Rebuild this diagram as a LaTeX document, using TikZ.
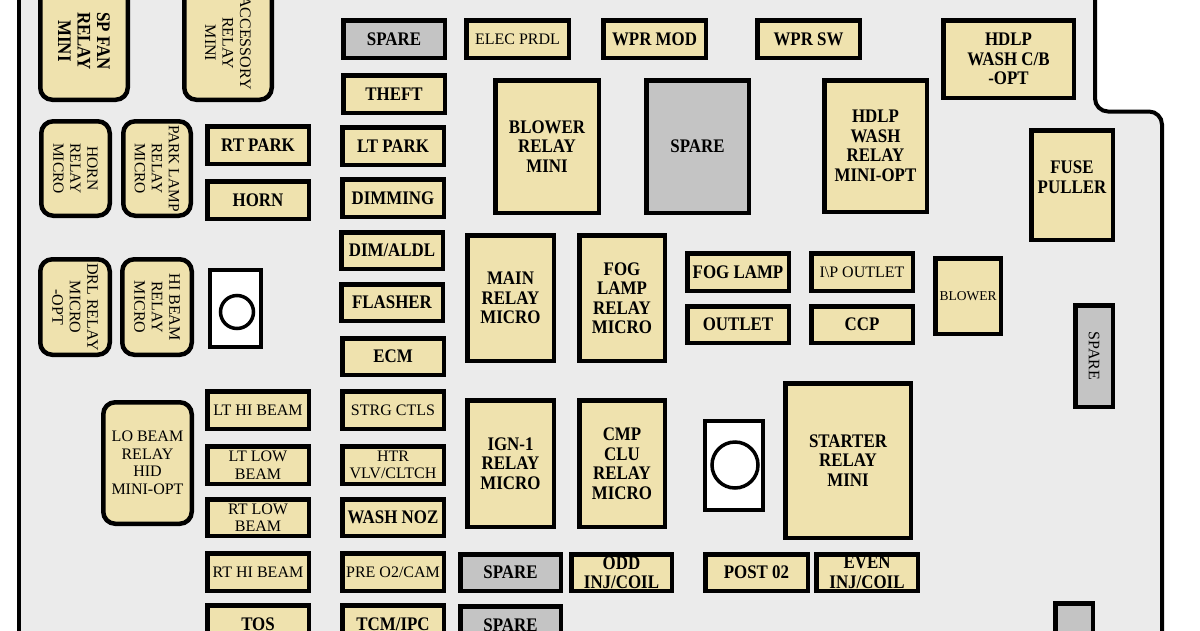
\documentclass[tikz,border=0pt]{standalone}
\usepackage{fontspec}
\setmainfont{Liberation Serif}[BoldFeatures={FakeStretch=0.88}]
\definecolor{panel}{HTML}{EBEBEB}
\definecolor{fuse}{HTML}{EFE2AE}
\definecolor{spare}{HTML}{C4C4C4}
\tikzset{
  box/.style={draw=black, line width=4.5pt, fill=fuse, inner sep=0pt, align=center},
  sparebox/.style={box, fill=spare},
  holebox/.style={box, fill=white, line width=4pt},
  relay/.style={box, rounded corners=12pt},
  bt/.style={font=\fontsize{19.2}{19.5}\selectfont\bfseries},
  rt/.style={font=\fontsize{16}{17.5}\selectfont},
  st/.style={font=\fontsize{15.5}{17}\selectfont},
  xt/.style={font=\fontsize{13.5}{15}\selectfont},
  hole/.style={circle, draw=black, fill=white, line width=3.5pt, inner sep=0pt},
  edge/.style={draw=black, line width=4pt}
}
\newcommand{\fbx}[7]{%
  \pgfmathsetmacro\bxcx{(#3+#5)/2}%
  \pgfmathsetmacro\bxcy{-(#4+#6)/2}%
  \pgfmathsetmacro\bxw{#5-#3-4.5}%
  \pgfmathsetmacro\bxh{#6-#4-4.5}%
  \node[#1, minimum width=\bxw pt, minimum height=\bxh pt] (#2) at (\bxcx pt,\bxcy pt) {#7};}
\newcommand{\rbx}[7]{%
  \pgfmathsetmacro\bxcx{(#3+#5)/2}%
  \pgfmathsetmacro\bxcy{-(#4+#6)/2}%
  \pgfmathsetmacro\bxw{#5-#3-4.5}%
  \pgfmathsetmacro\bxh{#6-#4-4.5}%
  \node[#1, rotate=-90, minimum width=\bxh pt, minimum height=\bxw pt] (#2) at (\bxcx pt,\bxcy pt) {#7};}
\begin{document}
\begin{tikzpicture}
\useasboundingbox (0pt,0pt) rectangle (1200pt,-630pt);
\clip (0pt,0pt) rectangle (1200pt,-630pt);
\fill[white] (0pt,0pt) rectangle (1200pt,-630pt);
% panel
\fill[panel] (18.7pt,10pt) -- (1095pt,10pt) [rounded corners=13pt] -- (1095pt,-111.5pt) -- (1162pt,-111.5pt) [sharp corners] -- (1162pt,-640pt) -- (18.7pt,-640pt) -- cycle;
\draw[edge] (18.7pt,10pt) -- (18.7pt,-640pt);
\draw[edge] (1095pt,10pt) [rounded corners=13pt] -- (1095pt,-111.5pt) -- (1162pt,-111.5pt) [sharp corners] -- (1162pt,-640pt);

% rotated relays, left
\rbx{relay,bt}{spfan}{38}{-20}{130}{102}{SP FAN\\RELAY\\MINI}
\rbx{relay,rt}{acc}{182}{-16}{274}{102}{ACCESSORY\\RELAY\\MINI}
\rbx{relay,st}{hornrly}{39}{119}{112}{218}{HORN\\RELAY\\MICRO}
\rbx{relay,st}{parkrly}{121}{119}{193}{218}{PARK LAMP\\RELAY\\MICRO}
\rbx{relay,rt}{drlrly}{38}{257}{112}{357}{DRL RELAY\\MICRO\\-OPT}
\rbx{relay,rt}{hirly}{120}{257}{194}{357}{HI BEAM\\RELAY\\MICRO}
\fbx{relay,rt}{lorly}{101}{400}{194}{526}{LO BEAM\\RELAY\\HID\\MINI-OPT}

% hole 1
\fbx{holebox}{hole1box}{208}{268}{263}{349}{}
\node[hole, minimum size=33pt] (hole1) at (237pt,-312pt) {};

% column 1 fuses
\fbx{box,bt}{rtpark}{205}{124}{311}{166}{RT PARK}
\fbx{box,bt}{horn}{205}{179}{311}{221}{HORN}
\fbx{box,rt}{lthi}{205}{389}{311}{431}{LT HI BEAM}
\fbx{box,rt}{ltlow}{205}{444}{311}{486}{LT LOW\\BEAM}
\fbx{box,rt}{rtlow}{205}{497}{311}{538}{RT LOW\\BEAM}
\fbx{box,rt}{rthi}{205}{551}{311}{593}{RT HI BEAM}
\fbx{box,bt}{tos}{205}{603}{311}{645}{TOS}

% column 2 fuses
\fbx{sparebox,bt}{spare1}{341}{18}{447}{60}{SPARE}
\fbx{box,bt}{theft}{341}{73}{447}{115}{THEFT}
\fbx{box,bt}{ltpark}{340}{125}{446}{167}{LT PARK}
\fbx{box,bt}{dimming}{340}{177}{446}{219}{DIMMING}
\fbx{box,bt}{dimaldl}{339}{230}{445}{271}{DIM/ALDL}
\fbx{box,bt}{flasher}{339}{282}{445}{323}{FLASHER}
\fbx{box,bt}{ecm}{340}{336}{446}{377}{ECM}
\fbx{box,rt}{strg}{340}{389}{446}{431}{STRG CTLS}
\fbx{box,rt}{htr}{340}{444}{446}{486}{HTR\\VLV/CLTCH}
\fbx{box,bt}{washnoz}{340}{497}{446}{538}{WASH NOZ}
\fbx{box,rt}{preo2}{340}{551}{446}{593}{PRE O2/CAM}
\fbx{box,bt}{tcm}{340}{603}{446}{645}{TCM/IPC}

% top row
\fbx{box,rt}{elec}{464}{18}{571}{60}{ELEC PRDL}
\fbx{box,bt}{wprmod}{601}{18}{708}{60}{WPR MOD}
\fbx{box,bt}{wprsw}{755}{18}{862}{60}{WPR SW}
\fbx{box,bt}{hdlpcb}{941}{18}{1076}{100}{HDLP\\WASH C/B\\-OPT}

% relays upper
\fbx{box,bt}{blowrly}{493}{78}{601}{215}{BLOWER\\RELAY\\MINI}
\fbx{sparebox,bt}{sparebig}{644}{78}{751}{215}{SPARE}
\fbx{box,bt}{hdlprly}{822}{78}{929}{214}{HDLP\\WASH\\RELAY\\MINI-OPT}
\fbx{box}{puller}{1029}{128}{1115}{242}{}
\node[bt, align=center, yshift=8pt] (pullertxt) at (puller.center) {FUSE\\PULLER};

% middle
\fbx{box,bt}{mainrly}{465}{233}{556}{363}{MAIN\\RELAY\\MICRO}
\fbx{box,bt}{fogrly}{577}{233}{667}{363}{FOG\\LAMP\\RELAY\\MICRO}
\fbx{box,bt}{foglamp}{685}{251}{791}{293}{FOG LAMP}
\fbx{box,rt}{ipoutlet}{809}{251}{915}{293}{I\textbackslash P OUTLET}
\fbx{box,bt}{outlet}{685}{304}{791}{345}{OUTLET}
\fbx{box,bt}{ccp}{809}{304}{915}{345}{CCP}
\fbx{box,xt}{blower}{933}{256}{1003}{336}{BLOWER}
\rbx{sparebox,rt}{sparev}{1073}{303}{1115}{409}{SPARE}

% lower relays
\fbx{box,bt}{ignrly}{465}{398}{556}{529}{IGN-1\\RELAY\\MICRO}
\fbx{box,bt}{cmprly}{577}{398}{667}{529}{CMP\\CLU\\RELAY\\MICRO}
\fbx{holebox}{hole2box}{703}{419}{765}{512}{}
\node[hole, minimum size=46pt] (hole2) at (735pt,-465pt) {};
\fbx{box,bt}{starter}{783}{381}{913}{540}{STARTER\\RELAY\\MINI}

% bottom row
\fbx{sparebox,bt}{spare2}{458}{552}{563}{593}{SPARE}
\fbx{box,bt}{odd}{569}{552}{674}{593}{ODD\\INJ/COIL}
\fbx{box,bt}{post}{703}{552}{810}{593}{POST 02}
\fbx{box,bt}{even}{814}{552}{920}{593}{EVEN\\INJ/COIL}
\fbx{sparebox,bt}{spare3}{458}{604}{563}{646}{SPARE}
\fbx{sparebox}{spare4}{1053}{601}{1095}{650}{}
\end{tikzpicture}
\end{document}
